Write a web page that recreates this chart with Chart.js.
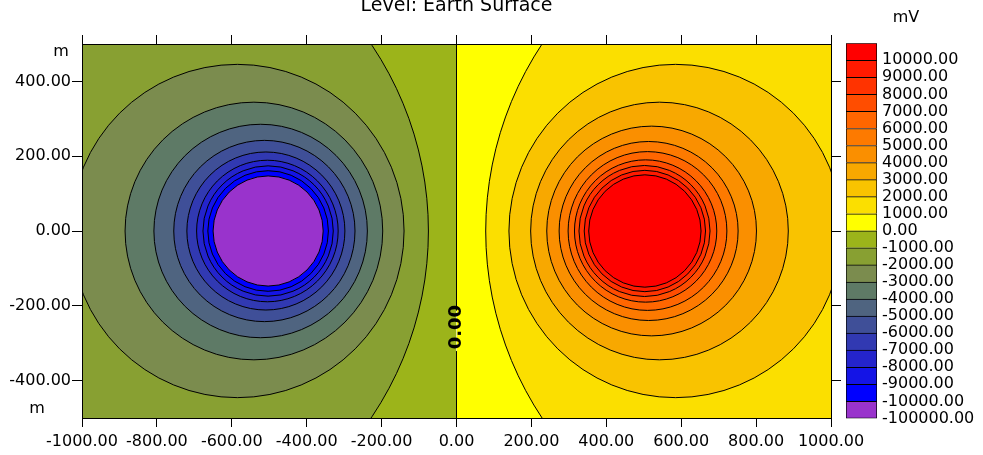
<!DOCTYPE html>
<html>
<head>
<meta charset="utf-8">
<title>Level: Earth Surface</title>
<script src="https://cdn.jsdelivr.net/npm/chart.js@4.4.1/dist/chart.umd.min.js"></script>
<style>
  html, body { margin: 0; padding: 0; background: #fff; overflow: hidden; }
  #wrap { position: relative; width: 983px; height: 455px; }
  #plot { position: absolute; left: 0; top: 0; }
  #scale { position: absolute; left: 820px; top: 0; }
</style>
</head>
<body>
<div id="wrap">
  <canvas id="plot" width="983" height="455"></canvas>
  <canvas id="scale" width="163" height="455"></canvas>
</div>
<script>
// axis ticks (m)
const xTicks = [-1000, -800, -600, -400, -200, 0, 200, 400, 600, 800, 1000];
const yTicks = [-400, -200, 0, 200, 400];

// colour scale, top to bottom (mV)
const bandLabels = ['10000.00', '9000.00', '8000.00', '7000.00', '6000.00', '5000.00', '4000.00',
  '3000.00', '2000.00', '1000.00', '0.00', '-1000.00', '-2000.00', '-3000.00', '-4000.00',
  '-5000.00', '-6000.00', '-7000.00', '-8000.00', '-9000.00', '-10000.00', '-100000.00'];
const bandColors = ['#ff0000', '#ff1a00', '#ff3300', '#ff4d00', '#ff6600', '#fd7a00', '#fa8f00',
  '#f8a800', '#f9c300', '#fbdf00', '#ffff00', '#9cb41a', '#88a032', '#7b8c4e', '#5e7a66',
  '#4f6480', '#3f4f98', '#3139b2', '#2424cc', '#1414e6', '#0000ff', '#9933cc'];

// contour rings round the negative source: level (mV), centre x and radius (m)
const negLevels  = [-1000, -2000, -3000, -4000, -5000, -6000, -7000, -8000, -9000, -10000];
const negCenters = [-966, -585, -541, -523, -513, -509, -505, -503, -503, -503];
const negRadii   = [891, 445, 344, 285, 242, 211, 189, 174, 161, 147];

// contour rings round the positive source
const posLevels  = [1000, 2000, 3000, 4000, 5000, 6000, 7000, 8000, 9000, 10000];
const posCenters = [982, 585, 542, 521, 513, 510, 505, 502, 503, 503];
const posRadii   = [904, 445, 344, 280, 239, 212, 190, 175, 162, 150];

// the 0 mV contour is the line x = 0, broken where its label sits
const zeroLine = [{x: 0, y: 500}, {x: 0, y: -212}, {x: 0, y: null}, {x: 0, y: -322}, {x: 0, y: -500}];
const zeroLabel = {x: 0, y: -257, text: '0.00'};

Chart.defaults.font.family = '"DejaVu Sans", sans-serif';
Chart.defaults.color = '#000';

function ring(level, cx, r, color, order) {
  return {
    type: 'bubble', label: level + ' mV', ringRadius: r,
    data: [{x: cx, y: 0}],
    backgroundColor: color, borderColor: '#000', borderWidth: 1,
    hoverRadius: 0, clip: 0, order: order
  };
}

const datasets = [
  {type: 'line', data: [{x: -1000, y: 500}, {x: 0, y: 500}], fill: 'start',
   backgroundColor: bandColors[11], borderWidth: 0, pointRadius: 0, order: 50},
  {type: 'line', data: [{x: 0, y: 500}, {x: 1000, y: 500}], fill: 'start',
   backgroundColor: bandColors[10], borderWidth: 0, pointRadius: 0, order: 50}
];
negLevels.forEach((lv, i) => datasets.push(ring(lv, negCenters[i], negRadii[i], bandColors[12 + i], 40 - i)));
posLevels.forEach((lv, i) => datasets.push(ring(lv, posCenters[i], posRadii[i], bandColors[9 - i], 40 - i)));
datasets.push({type: 'line', data: zeroLine, borderColor: '#000', borderWidth: 1,
  pointRadius: 0, fill: false, order: 0});

// unit labels on the y axis and the label on the 0 contour
const plotText = {
  id: 'plotText',
  afterDraw(chart) {
    const {ctx, chartArea: a} = chart;
    ctx.save();
    ctx.fillStyle = '#000';
    ctx.textAlign = 'center';
    ctx.textBaseline = 'middle';
    ctx.font = '16px "DejaVu Sans"';
    ctx.fillText('m', a.left - 21, a.top + 8);
    ctx.fillText('m', a.left - 45, a.bottom - 9);
    const x = chart.scales.x.getPixelForValue(zeroLabel.x);
    const y = chart.scales.y.getPixelForValue(zeroLabel.y);
    ctx.translate(x, y);
    ctx.rotate(-Math.PI / 2);
    ctx.font = 'bold 18px "DejaVu Sans"';
    ctx.fillText(zeroLabel.text, 0, 0);
    ctx.restore();
  }
};

const fmt = v => Number(v).toFixed(2);

const plot = new Chart(document.getElementById('plot'), {
  type: 'bubble',
  data: {datasets: datasets},
  plugins: [plotText],
  options: {
    responsive: false, devicePixelRatio: 1, animation: false, events: [],
    layout: {autoPadding: false},
    plugins: {legend: {display: false}, tooltip: {enabled: false}},
    scales: {
      x: {
        type: 'linear', position: 'bottom', min: -1000, max: 1000,
        afterBuildTicks: s => { s.ticks = xTicks.map(v => ({value: v})); },
        afterFit: s => { s.height = 37; },
        ticks: {callback: fmt, font: {size: 16}, padding: 5, maxRotation: 0, autoSkip: false},
        grid: {drawOnChartArea: false, color: '#000', tickLength: 9},
        border: {color: '#000', z: 1}
      },
      y: {
        type: 'linear', position: 'left', min: -500, max: 500,
        afterBuildTicks: s => { s.ticks = yTicks.map(v => ({value: v})); },
        afterFit: s => { s.width = 82; },
        ticks: {callback: fmt, font: {size: 16}, padding: 1},
        grid: {drawOnChartArea: false, color: '#000', tickLength: 10},
        border: {color: '#000', z: 1}
      },
      xTop: {
        type: 'linear', position: 'top', min: -1000, max: 1000,
        afterBuildTicks: s => { s.ticks = xTicks.map(v => ({value: v})); },
        afterFit: s => { s.height = 44; },
        ticks: {display: false},
        title: {
          display: true, text: 'Level: Earth Surface', color: '#000',
          font: {size: 19, weight: 'normal', lineHeight: 1},
          padding: {top: -3, bottom: 0}
        },
        grid: {drawOnChartArea: false, color: '#000', tickLength: 9},
        border: {color: '#000', z: 1}
      },
      yRight: {
        type: 'linear', position: 'right', min: -500, max: 500,
        afterBuildTicks: s => { s.ticks = yTicks.map(v => ({value: v})); },
        afterFit: s => { s.width = 152; },
        ticks: {display: false},
        grid: {drawOnChartArea: false, color: '#000', tickLength: 10},
        border: {color: '#000', z: 1}
      }
    }
  }
});

// ring radii are in metres: turn them into pixels with the laid-out x scale
const xs = plot.scales.x;
plot.data.datasets.forEach(ds => {
  if (ds.ringRadius) {
    const r = Math.abs(xs.getPixelForValue(ds.ringRadius) - xs.getPixelForValue(0));
    ds.data = ds.data.map(p => ({x: p.x, y: p.y, r: r}));
  }
});
plot.update();

// colour scale: stacked boxes, bottom box first
const boxes = bandColors.slice().reverse();
new Chart(document.getElementById('scale'), {
  type: 'bar',
  data: {
    labels: ['mV'],
    datasets: boxes.map((c, i) => ({
      data: [1], backgroundColor: c, borderColor: '#000',
      borderWidth: {top: 1, left: 1, right: 1, bottom: i === 0 ? 1 : 0},
      borderSkipped: false, barPercentage: 1, categoryPercentage: 1, stack: 's',
      xAxisID: 'x', yAxisID: 'y'
    }))
  },
  options: {
    responsive: false, devicePixelRatio: 1, animation: false, events: [],
    layout: {padding: {left: 9, right: 0, bottom: 36.6}},
    plugins: {
      legend: {display: false},
      tooltip: {enabled: false},
      title: {
        display: true, text: 'mV', color: '#000',
        font: {size: 16, weight: 'normal', lineHeight: 1.2},
        padding: {top: 8, bottom: 16}
      }
    },
    scales: {
      x: {display: false, stacked: true},
      y: {
        stacked: true, position: 'right', min: 0, max: boxes.length,
        afterBuildTicks: s => { s.ticks = bandLabels.map((_, i) => ({value: i})); },
        afterFit: s => { s.width = 106; },
        ticks: {callback: v => bandLabels[bandLabels.length - 1 - v], font: {size: 16},
          padding: 5, autoSkip: false},
        grid: {display: false, drawTicks: false},
        border: {display: false}
      },
      // empty strip left of the boxes, so the title centres over the labels
      pad: {
        type: 'linear', axis: 'y', position: 'left', display: true,
        ticks: {display: false}, grid: {display: false, drawTicks: false}, border: {display: false},
        afterFit: s => { s.width = 17; }
      }
    }
  }
});
</script>
</body>
</html>
